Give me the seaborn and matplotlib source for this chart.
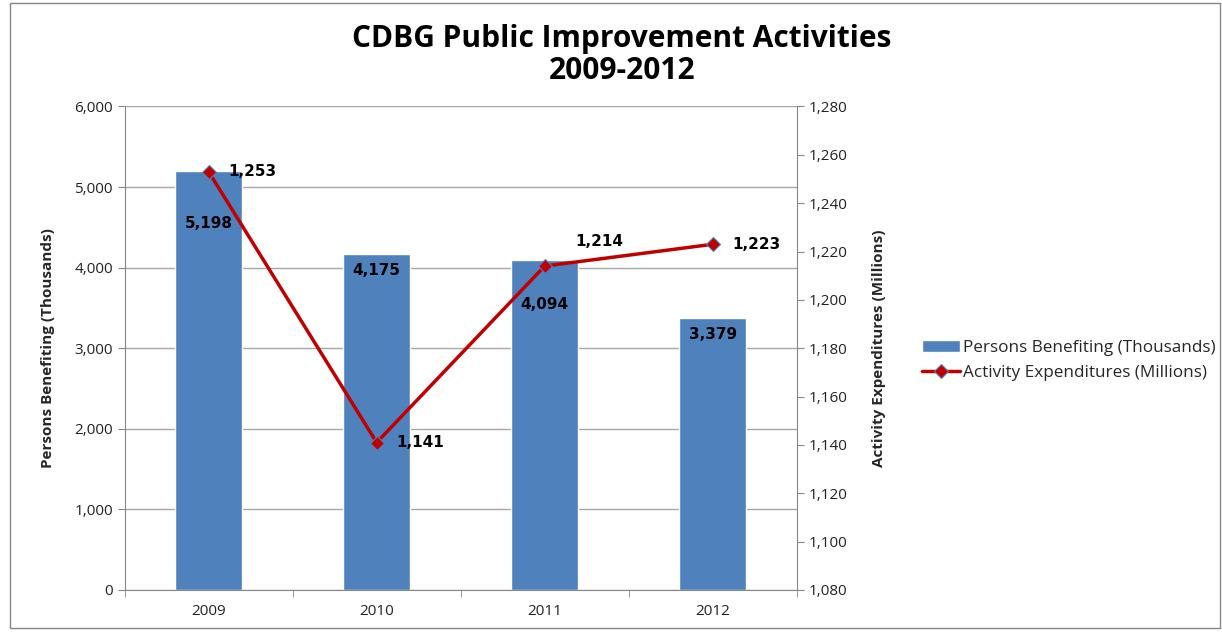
import matplotlib
matplotlib.use('Agg')
import matplotlib.pyplot as plt
import matplotlib.ticker as mticker
from matplotlib.patches import Rectangle
import seaborn as sns
import pandas as pd

years = ['2009', '2010', '2011', '2012']
persons = [5198, 4175, 4094, 3379]
expenditures = [1253, 1141, 1214, 1223]

df = pd.DataFrame({'year': years, 'persons': persons, 'exp': expenditures})

sns.set_style('white')
plt.rcParams['font.family'] = ['Open Sans', 'DejaVu Sans']

fig = plt.figure(figsize=(12.22, 6.32), dpi=100)
ax = fig.add_axes([0.102, 0.0665, 0.55, 0.765])

bar_col = '#4F81BD'
line_col = '#C00000'
axis_col = '#878787'

sns.barplot(data=df, x='year', y='persons', color=bar_col, width=0.4,
            saturation=1, ax=ax, label='Persons Benefiting (Thousands)', zorder=2)
ax.set_xlim(-0.5, 3.5)
ax.set_ylim(0, 6000)
ax.set_yticks(range(0, 6001, 1000))
ax.yaxis.set_major_formatter(mticker.FuncFormatter(lambda v, p: f'{int(v):,}'))
ax.grid(axis='y', color='#A6A6A6', lw=1, zorder=0)
ax.set_axisbelow(True)
ax.set_xlabel('')
ax.set_ylabel('Persons Benefiting (Thousands)', fontsize=11, fontweight='bold', labelpad=14)
for s in ['top', 'right']:
    ax.spines[s].set_visible(False)
for s in ['left', 'bottom']:
    ax.spines[s].set_color(axis_col)
ax.tick_params(axis='y', labelsize=11, colors='#222222', length=5, direction='out',
               left=True, color=axis_col)
# category ticks sit between the bars, like Excel
ax.tick_params(axis='x', which='major', labelsize=11, colors='#222222', length=0, pad=10)
ax.set_xticks([-0.5, 0.5, 1.5, 2.5, 3.5], minor=True)
ax.tick_params(axis='x', which='minor', length=5, direction='out', bottom=True, color=axis_col)

# bar labels (offsets in points, placed clear of the line)
bar_lab_off = [38, 12, 32, 12]
for i, v in enumerate(persons):
    ax.annotate(f'{v:,}', (i, v), xytext=(0, -bar_lab_off[i]), textcoords='offset points',
                ha='center', va='center', fontsize=11, fontweight='bold',
                family='DejaVu Sans', color='black', zorder=5)

ax2 = ax.twinx()
sns.lineplot(x=list(range(len(years))), y=expenditures, ax=ax2, color=line_col, lw=2.5,
             marker='D', markersize=7, markerfacecolor=line_col,
             markeredgecolor='#4F81BD', markeredgewidth=0.8,
             label='Activity Expenditures (Millions)', zorder=4)
ax2.set_xlim(-0.5, 3.5)
ax2.set_ylim(1080, 1280)
ax2.set_yticks(range(1080, 1281, 20))
ax2.yaxis.set_major_formatter(mticker.FuncFormatter(lambda v, p: f'{int(v):,}'))
ax2.set_ylabel('Activity Expenditures (Millions)', fontsize=11, fontweight='bold', labelpad=18)
for s in ['top', 'left', 'bottom']:
    ax2.spines[s].set_visible(False)
ax2.spines['right'].set_color(axis_col)
ax2.tick_params(axis='y', labelsize=11, colors='#222222', length=5, direction='out',
                right=True, color=axis_col)

line_lab_off = [(14, 0), (14, 0), (22, 18), (14, 0)]
for i, v in enumerate(expenditures):
    dx, dy = line_lab_off[i]
    ax2.annotate(f'{v:,}', (i, v), xytext=(dx, dy), textcoords='offset points',
                 ha='left', va='center', fontsize=11, fontweight='bold',
                 family='DejaVu Sans', color='black')

h1, l1 = ax.get_legend_handles_labels()
h2, l2 = ax2.get_legend_handles_labels()
if ax.get_legend():
    ax.get_legend().remove()
if ax2.get_legend():
    ax2.get_legend().remove()
fig.legend(h1 + h2, l1 + l2, loc='center left', bbox_to_anchor=(0.742, 0.43),
           frameon=False, fontsize=12.3, handlelength=2.2, labelspacing=0.5,
           handletextpad=0.2)

fig.suptitle('CDBG Public Improvement Activities\n2009-2012', x=0.509, y=0.962,
             fontsize=21.5, fontweight='bold', linespacing=1.1, color='black')

fig.patches.append(Rectangle((0.008, 0.006), 0.99, 0.99, transform=fig.transFigure,
                             fill=False, edgecolor=axis_col, lw=1))

fig.savefig('out.png', dpi=100)
